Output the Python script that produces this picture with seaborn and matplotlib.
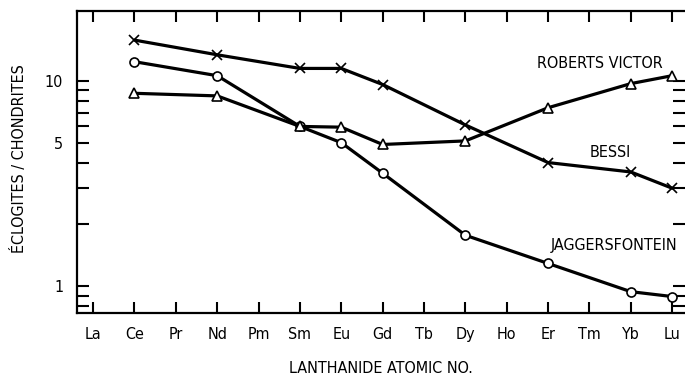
import matplotlib
matplotlib.use("Agg")
import matplotlib.pyplot as plt
import matplotlib.ticker as mticker
import seaborn as sns
import pandas as pd

# ---- data ----
elements = ["La", "Ce", "Pr", "Nd", "Pm", "Sm", "Eu", "Gd", "Tb", "Dy", "Ho", "Er", "Tm", "Yb", "Lu"]
measured = ["Ce", "Nd", "Sm", "Eu", "Gd", "Dy", "Er", "Yb", "Lu"]
bessi = [15.8, 13.4, 11.5, 11.5, 9.6, 6.1, 4.0, 3.6, 3.0]
jaggersfontein = [12.4, 10.6, 6.0, 5.0, 3.55, 1.77, 1.29, 0.94, 0.89]
roberts_victor = [8.7, 8.45, 6.0, 5.95, 4.9, 5.1, 7.4, 9.7, 10.6]
series_names = ["BESSI", "JAGGERSFONTEIN", "ROBERTS VICTOR"]
series_values = [bessi, jaggersfontein, roberts_victor]
y_major = [1, 5, 10]
y_minor = [0.8, 0.9, 2, 3, 4, 6, 7, 8, 9]

rows = []
for name, vals in zip(series_names, series_values):
    for el, v in zip(measured, vals):
        rows.append({"series": name, "pos": elements.index(el), "value": v})
df = pd.DataFrame(rows)

sns.set_style("ticks")
plt.rcParams["font.family"] = ["DejaVu Sans"]
plt.rcParams["font.stretch"] = "condensed"
plt.rcParams["text.color"] = "black"
plt.rcParams["axes.labelcolor"] = "black"
plt.rcParams["xtick.color"] = "black"
plt.rcParams["ytick.color"] = "black"

fig = plt.figure(figsize=(6.85, 3.84), dpi=100)
ax = fig.add_axes([77 / 685, 1 - 313 / 384, (685 - 77) / 685, (313 - 11) / 384])

markers = {"BESSI": "x", "JAGGERSFONTEIN": "o", "ROBERTS VICTOR": "^"}
msize = {"BESSI": 6.5, "JAGGERSFONTEIN": 6.5, "ROBERTS VICTOR": 7.5}
for name in series_names:
    sub = df[df["series"] == name]
    sns.lineplot(data=sub, x="pos", y="value", ax=ax, color="black", linewidth=2.3,
                 marker=markers[name], markersize=msize[name],
                 markerfacecolor="white", markeredgecolor="black",
                 markeredgewidth=1.2, legend=False, zorder=3)

ax.set_yscale("log")
ax.set_ylim(0.74, 21.9)
ax.set_xlim(-0.39, 14.31)

ax.set_xticks(range(len(elements)))
ax.set_xticklabels(elements, fontsize=11.5)
ax.yaxis.set_major_locator(mticker.FixedLocator(y_major))
ax.yaxis.set_major_formatter(mticker.FixedFormatter([str(v) for v in y_major]))
ax.yaxis.set_minor_locator(mticker.FixedLocator(y_minor))
ax.yaxis.set_minor_formatter(mticker.NullFormatter())
for lab in ax.get_yticklabels():
    lab.set_fontsize(11.5)

ax.tick_params(axis="x", which="both", direction="in", top=True, bottom=True,
               length=8, width=1.5, pad=10, colors="black")
ax.tick_params(axis="y", which="both", direction="in", left=True, right=True,
               length=8.5, width=1.5, pad=10, colors="black")

for side in ["left", "bottom", "top"]:
    ax.spines[side].set_linewidth(1.6)
    ax.spines[side].set_color("black")
ax.spines["right"].set_visible(False)

ax.set_xlabel("LANTHANIDE ATOMIC NO.", fontsize=11.5, labelpad=14)
ax.set_ylabel("ÉCLOGITES / CHONDRITES", fontsize=11.5)
ax.yaxis.set_label_coords(-0.083, 0.51)

ax.text(10.73, 12.2, "ROBERTS VICTOR", fontsize=11.5, va="center", ha="left")
ax.text(12.0, 4.5, "BESSI", fontsize=11.5, va="center", ha="left")
ax.text(11.07, 1.57, "JAGGERSFONTEIN", fontsize=11.5, va="center", ha="left")

fig.savefig("out.png", dpi=100)
